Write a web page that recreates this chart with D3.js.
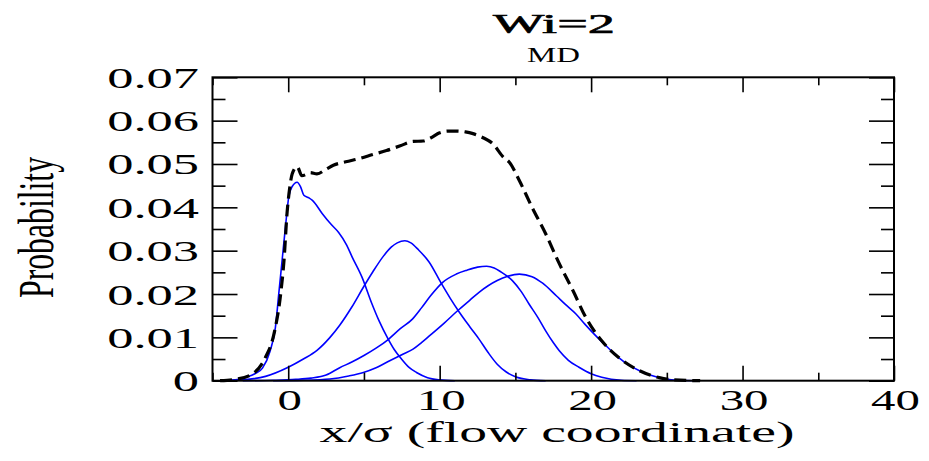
<!DOCTYPE html>
<html>
<head>
<meta charset="utf-8">
<script src="https://cdn.jsdelivr.net/npm/d3@7"></script>
<style>
  html, body { margin: 0; padding: 0; background: #fff; }
  svg { display: block; }
  text { font-family: "Liberation Serif", "Times New Roman", serif; fill: #000; }
</style>
</head>
<body>
<svg id="chart" width="929" height="461"></svg>
<script>
// Position distributions along the flow coordinate (x/σ); four segment curves and their total.
const seg1X = [-4.5, -3.5, -2.8, -2.2, -1.7, -1.2, -0.85, -0.62, -0.4, -0.18, 0.04, 0.26, 0.59, 0.81, 1.03, 1.36, 1.6, 2.24, 2.8, 3.33, 3.86, 4.2, 4.87, 5.5, 6.0, 6.6, 7.0, 7.48, 8.0, 8.47, 9.2, 10, 11];
const seg1P = [0, 0.0002, 0.0008, 0.0016, 0.0029, 0.0068, 0.0122, 0.0202, 0.0279, 0.0356, 0.0425, 0.0448, 0.0458, 0.0448, 0.0428, 0.0422, 0.0416, 0.0386, 0.0362, 0.0342, 0.0313, 0.0287, 0.0239, 0.0180, 0.0138, 0.0096, 0.0072, 0.0050, 0.0030, 0.0019, 0.0007, 0.0002, 0];

const seg2X = [-4.5, -3, -1.5, 0, 1, 1.9, 2.76, 3.4, 4.2, 5.0, 5.6, 6.3, 6.8, 7.2, 7.7, 8.1, 8.6, 9.3, 10.1, 10.7, 11.3, 12.0, 12.6, 13.2, 13.8, 14.4, 15.0, 16.0, 17];
const seg2P = [0, 0.0002, 0.0010, 0.0031, 0.0050, 0.0070, 0.0100, 0.0128, 0.0170, 0.0218, 0.0252, 0.0288, 0.0308, 0.0318, 0.0323, 0.0318, 0.0302, 0.0274, 0.0225, 0.0190, 0.0158, 0.0124, 0.0096, 0.0065, 0.0038, 0.0020, 0.0009, 0.0002, 0];

const seg3X = [-3, -1, 0.5, 1.5, 2.5, 3.4, 4.2, 5.0, 5.8, 6.6, 7.4, 8.2, 8.8, 9.4, 10.2, 11.1, 11.8, 12.5, 13.1, 13.6, 14.0, 14.8, 15.4, 15.9, 16.5, 17.0, 17.5, 17.9, 18.5, 19.2, 20, 20.7, 22, 23];
const seg3P = [0, 0.0001, 0.0003, 0.0006, 0.0013, 0.0030, 0.0043, 0.0058, 0.0075, 0.0095, 0.0120, 0.0142, 0.0168, 0.0196, 0.0227, 0.0246, 0.0255, 0.0262, 0.0264, 0.0260, 0.0252, 0.0231, 0.0205, 0.0177, 0.0145, 0.0115, 0.0088, 0.0069, 0.0047, 0.0031, 0.0016, 0.0008, 0.0001, 0];

const seg4X = [-1, 1, 2.76, 4, 4.96, 5.8, 6.7, 7.5, 8.24, 8.8, 9.34, 10.3, 11.2, 12.0, 12.6, 13.2, 13.8, 14.5, 15.26, 16.1, 16.8, 17.7, 18.3, 19.0, 19.6, 20.3, 21.0, 21.8, 22.5, 23.2, 24, 24.9, 26, 27];
const seg4P = [0, 0.0001, 0.0004, 0.0011, 0.0019, 0.0030, 0.0046, 0.0060, 0.0073, 0.0088, 0.0104, 0.0133, 0.0162, 0.0186, 0.0204, 0.0219, 0.0231, 0.0241, 0.0246, 0.0240, 0.0225, 0.0196, 0.0176, 0.0154, 0.0130, 0.0104, 0.0080, 0.0054, 0.0036, 0.0023, 0.0012, 0.0004, 0.0001, 0];

const totalX = [-4.5, -3.5, -2.4, -1.5, -0.94, -0.5, -0.28, -0.07, 0.1, 0.26, 0.59, 0.9, 1.2, 1.45, 1.9, 2.5, 2.98, 3.8, 4.74, 5.6, 6.49, 7.4, 8.24, 8.9, 9.4, 10.0, 10.6, 11.1, 11.7, 12.2, 12.9, 13.5, 14.2, 14.6, 15.26, 16.1, 17.0, 17.9, 18.8, 19.65, 20.7, 21.8, 23.2, 24.5, 25.5, 27.2];
const totalP = [0, 0.0003, 0.0015, 0.0054, 0.0108, 0.0200, 0.0277, 0.0390, 0.0445, 0.0477, 0.0494, 0.0473, 0.0476, 0.0480, 0.0477, 0.0488, 0.0497, 0.0505, 0.0513, 0.0522, 0.0531, 0.0542, 0.0552, 0.0553, 0.0560, 0.0572, 0.0576, 0.0576, 0.0574, 0.0570, 0.0560, 0.0547, 0.0516, 0.0504, 0.0462, 0.0400, 0.0339, 0.0270, 0.0208, 0.0146, 0.0092, 0.0054, 0.0023, 0.0007, 0.0002, 0];

const xMajorTicks = [0, 10, 20, 30, 40];
const xTickLabels = ["0", "10", "20", "30", "40"];
const xMinorTicks = [-5, 5, 15, 25, 35];
const yMajorTicks = [0, 0.01, 0.02, 0.03, 0.04, 0.05, 0.06, 0.07];
const yTickLabels = ["0", "0.01", "0.02", "0.03", "0.04", "0.05", "0.06", "0.07"];
const yMinorTicks = [0.005, 0.015, 0.025, 0.035, 0.045, 0.055, 0.065];

const titleText = "Wi=2";
const subtitleText = "MD";
const xTitle = "x/σ (flow coordinate)";
const yTitle = "Probability";

const svg = d3.select("#chart");
svg.append("rect").attr("width", 929).attr("height", 461).attr("fill", "#fff");

const plotLeft = 212.5, plotRight = 894, plotTop = 77.3, plotBottom = 380.7;
const x = d3.scaleLinear().domain([-5, 40]).range([plotLeft, plotRight]);
const y = d3.scaleLinear().domain([0, 0.07]).range([plotBottom, plotTop]);

const zip = (xs, ps) => xs.map((v, i) => [v, ps[i]]);
const line = d3.line().x(d => x(d[0])).y(d => y(d[1])).curve(d3.curveMonotoneX);

// segment curves
[[seg1X, seg1P], [seg2X, seg2P], [seg3X, seg3P], [seg4X, seg4P]].forEach(([xs, ps]) => {
  svg.append("path")
    .attr("d", line(zip(xs, ps)))
    .attr("fill", "none")
    .attr("stroke", "#0000ff")
    .attr("stroke-width", 1.6)
    .attr("stroke-linejoin", "round");
});

// total distribution, dashed
svg.append("path")
  .attr("d", line(zip(totalX, totalP)))
  .attr("fill", "none")
  .attr("stroke", "#000")
  .attr("stroke-width", 3.2)
  .attr("stroke-dasharray", "12,6");

// axes: ticks point inward on all four sides
function styleAxis(g) {
  g.select(".domain").remove();
  g.selectAll(".tick line").attr("stroke", "#000").attr("stroke-width", 1.6);
}

svg.append("g").attr("transform", `translate(0,${plotBottom})`)
  .call(d3.axisBottom(x).tickValues(xMajorTicks).tickSizeInner(-15).tickSizeOuter(0)
    .tickFormat((d, i) => xTickLabels[i]))
  .call(styleAxis)
  .call(g => g.selectAll(".tick text")
    .attr("y", 0).attr("dy", 0)
    .attr("font-size", 30).attr("font-family", "Liberation Serif, serif")
    .attr("text-anchor", "middle")
    .attr("transform", "translate(1,29.5) scale(1.63,1)"));

svg.append("g").attr("transform", `translate(0,${plotBottom})`)
  .call(d3.axisBottom(x).tickValues(xMinorTicks).tickSizeInner(-8).tickSizeOuter(0).tickFormat(""))
  .call(styleAxis);

svg.append("g").attr("transform", `translate(0,${plotTop})`)
  .call(d3.axisTop(x).tickValues(xMajorTicks).tickSizeInner(-15).tickSizeOuter(0).tickFormat(""))
  .call(styleAxis);

svg.append("g").attr("transform", `translate(0,${plotTop})`)
  .call(d3.axisTop(x).tickValues(xMinorTicks).tickSizeInner(-8).tickSizeOuter(0).tickFormat(""))
  .call(styleAxis);

svg.append("g").attr("transform", `translate(${plotLeft},0)`)
  .call(d3.axisLeft(y).tickValues(yMajorTicks).tickSizeInner(-25).tickSizeOuter(0)
    .tickFormat((d, i) => yTickLabels[i]))
  .call(styleAxis)
  .call(g => g.selectAll(".tick text")
    .attr("x", 0).attr("dy", 0)
    .attr("font-size", 30).attr("font-family", "Liberation Serif, serif")
    .attr("text-anchor", "end")
    .attr("transform", "translate(-13.5,10) scale(1.75,1)"));

svg.append("g").attr("transform", `translate(${plotLeft},0)`)
  .call(d3.axisLeft(y).tickValues(yMinorTicks).tickSizeInner(-13).tickSizeOuter(0).tickFormat(""))
  .call(styleAxis);

svg.append("g").attr("transform", `translate(${plotRight},0)`)
  .call(d3.axisRight(y).tickValues(yMajorTicks).tickSizeInner(-25).tickSizeOuter(0).tickFormat(""))
  .call(styleAxis);

svg.append("g").attr("transform", `translate(${plotRight},0)`)
  .call(d3.axisRight(y).tickValues(yMinorTicks).tickSizeInner(-13).tickSizeOuter(0).tickFormat(""))
  .call(styleAxis);

// plot frame
svg.append("rect")
  .attr("x", plotLeft).attr("y", plotTop)
  .attr("width", plotRight - plotLeft).attr("height", plotBottom - plotTop)
  .attr("fill", "none").attr("stroke", "#000").attr("stroke-width", 2);

// text stretched horizontally to a given width
function wideText(str, cx, baseline, size, width, weight) {
  const t = svg.append("text")
    .attr("font-size", size)
    .attr("font-weight", weight || "normal")
    .attr("text-anchor", "middle")
    .text(str);
  const natural = t.node().getComputedTextLength();
  t.attr("transform", `translate(${cx},${baseline}) scale(${width / natural},1)`);
  return t;
}

wideText(titleText, 554, 33, 27, 122)
  .attr("stroke", "#000").attr("stroke-width", 0.6);
wideText(subtitleText, 553.5, 62, 20, 53);
wideText(xTitle, 557, 442, 30, 475);

// vertical axis title
const yt = svg.append("text")
  .attr("font-size", 32)
  .attr("text-anchor", "middle")
  .text(yTitle);
const yLen = yt.node().getComputedTextLength();
yt.attr("transform", `translate(53,227.5) scale(1.6,${141 / yLen}) rotate(-90)`);
</script>
</body>
</html>
